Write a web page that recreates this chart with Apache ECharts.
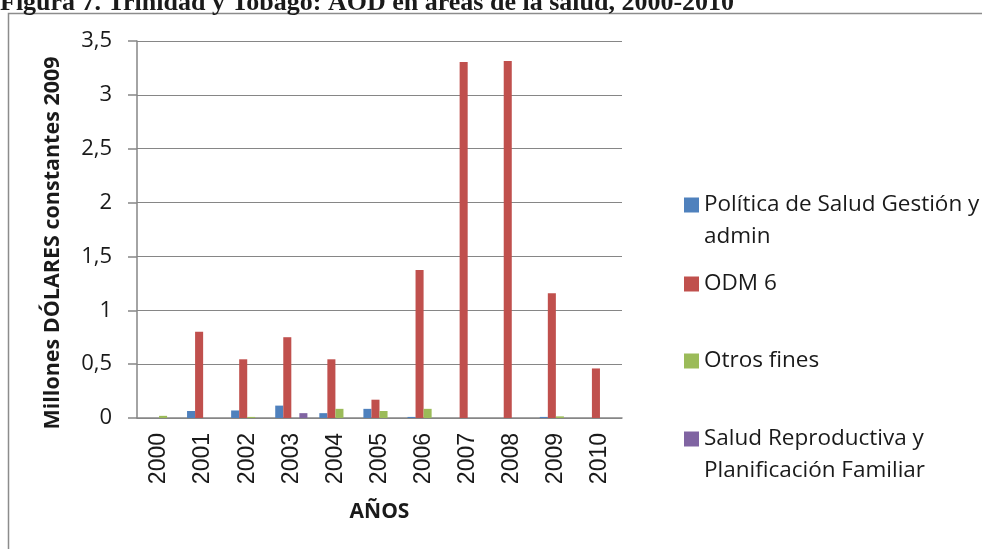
<!DOCTYPE html>
<html>
<head>
<meta charset="utf-8">
<script src="https://cdn.jsdelivr.net/npm/echarts@6/dist/echarts.min.js"></script>
<style>
  html, body { margin: 0; padding: 0; background: #fff; }
  #main { width: 982px; height: 549px; }
</style>
</head>
<body>
<div id="main"></div>
<script>
// datos
var anios = ['2000', '2001', '2002', '2003', '2004', '2005', '2006', '2007', '2008', '2009', '2010'];
var politica = [0, 0.065, 0.07, 0.115, 0.045, 0.085, 0.01, 0, 0, 0.01, 0];
var odm6 = [0, 0.80, 0.545, 0.75, 0.545, 0.17, 1.375, 3.305, 3.315, 1.157, 0.46];
var otros = [0.02, 0, 0.01, 0, 0.085, 0.065, 0.085, 0, 0, 0.015, 0];
var saludRep = [0, 0, 0, 0.045, 0, 0, 0, 0, 0, 0, 0];
var yTicks = [0, 0.5, 1, 1.5, 2, 2.5, 3, 3.5];

var nombres = ['Política de Salud Gestión y admin', 'ODM 6', 'Otros fines', 'Salud Reproductiva y Planificación Familiar'];
//la primera linea en blanco deja el icono alineado con la primera linea de texto
var etiquetas = {
    'Política de Salud Gestión y admin': ' \nPolítica de Salud Gestión y\nadmin',
    'ODM 6': 'ODM 6',
    'Otros fines': 'Otros fines',
    'Salud Reproductiva y Planificación Familiar': ' \nSalud Reproductiva y\nPlanificación Familiar'
};
var colores = ['#4F81BD', '#C0504D', '#9BBB59', '#8064A2'];

var myChart = echarts.init(document.getElementById('main'));

//leyenda: una por elemento para colocarlas como en Excel
function leyenda(nombre, top) {
    return {
        data: [nombre],
        left: 684,
        top: top,
        padding: 0,
        icon: 'rect',
        itemWidth: 15,
        itemHeight: 15,
        selectedMode: false,
        formatter: function (n) { return etiquetas[n]; },
        textStyle: {
            fontFamily: 'Open Sans',
            fontSize: 22.5,
            lineHeight: 32,
            color: '#1a1a1a'
        }
    };
}

var option = {
    backgroundColor: '#fff',
    animation: false,
    grid: { left: 137, top: 41, width: 485, height: 377 },
    legend: [
        leyenda(nombres[0], 157),
        leyenda(nombres[1], 268),
        leyenda(nombres[2], 345),
        leyenda(nombres[3], 391)
    ],
    xAxis: {
        type: 'category',
        data: anios,
        name: 'AÑOS',
        nameLocation: 'middle',
        nameGap: 84,
        nameTextStyle: { fontFamily: 'Open Sans', fontWeight: 'bold', fontSize: 21, color: '#1a1a1a' },
        axisLine: { lineStyle: { color: '#868686', width: 1.5 } },
        axisTick: { length: 9, lineStyle: { color: '#868686', width: 1.5 } },
        axisLabel: {
            rotate: 90,
            margin: 15,
            fontFamily: 'Liberation Sans',
            fontSize: 23,
            color: '#1a1a1a'
        }
    },
    yAxis: {
        type: 'value',
        min: 0,
        max: 3.5,
        interval: 0.5,
        axisLine: { show: true, lineStyle: { color: '#868686', width: 1.5 } },
        axisTick: { show: true, length: 9, lineStyle: { color: '#868686', width: 1.5 } },
        splitLine: { lineStyle: { color: '#868686', width: 1.2 } },
        axisLabel: {
            margin: 25,
            fontFamily: 'Open Sans',
            fontSize: 22,
            color: '#1a1a1a',
            formatter: function (v) { return yTicks.indexOf(v) >= 0 ? String(v).replace('.', ',') : ''; }
        }
    },
    graphic: [
        {
            type: 'rect',
            shape: { x: 8.5, y: 13.5, width: 1000, height: 600 },
            style: { fill: 'none', stroke: '#8c8c8c', lineWidth: 1.5 },
            z: -1
        },
        {
            type: 'text',
            left: 0,
            top: -10,
            style: {
                text: 'Figura 7. Trinidad y Tobago: AOD en áreas de la salud, 2000-2010',
                font: 'bold 26px "Liberation Serif"',
                fill: '#1a1a1a'
            }
        },
        {
            //titulo del eje vertical (en Excel queda algo por debajo del centro)
            type: 'text',
            x: 53,
            y: 243,
            rotation: Math.PI / 2,
            style: {
                text: 'Millones DÓLARES constantes 2009',
                font: 'bold 21.5px "Open Sans"',
                fill: '#1a1a1a',
                align: 'center',
                verticalAlign: 'middle'
            }
        }
    ],
    series: [
        { name: nombres[0], type: 'bar', data: politica, barGap: 0, barCategoryGap: '27%', itemStyle: { color: colores[0] } },
        { name: nombres[1], type: 'bar', data: odm6, barGap: 0, barCategoryGap: '27%', itemStyle: { color: colores[1] } },
        { name: nombres[2], type: 'bar', data: otros, barGap: 0, barCategoryGap: '27%', itemStyle: { color: colores[2] } },
        { name: nombres[3], type: 'bar', data: saludRep, barGap: 0, barCategoryGap: '27%', itemStyle: { color: colores[3] } }
    ]
};

myChart.setOption(option);
</script>
</body>
</html>
